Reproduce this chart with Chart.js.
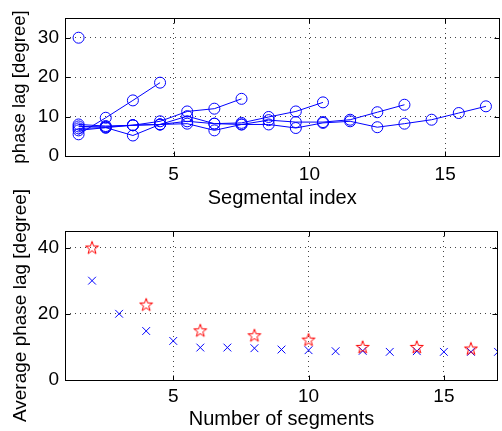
<!DOCTYPE html>
<html>
<head>
<meta charset="utf-8">
<title>Phase lag</title>
<script src="https://cdn.jsdelivr.net/npm/chart.js@4"></script>
<style>
  html, body { margin: 0; padding: 0; background: #fff; overflow: hidden; }
  #wrap { position: relative; width: 506px; height: 431px; }
  canvas { position: absolute; left: 0; }
  #topChart { top: 0; }
  #bottomChart { top: 180px; }
</style>
</head>
<body>
<div id="wrap">
  <canvas id="topChart" width="506" height="210"></canvas>
  <canvas id="bottomChart" width="506" height="251"></canvas>
</div>
<script>
// --- data ---
const segIndex = [1.5, 2.5, 3.5, 4.5, 5.5, 6.5, 7.5, 8.5, 9.5, 10.5, 11.5, 12.5, 13.5, 14.5, 15.5, 16.5];

// phase lag per segmental index, one series per number of segments
const lag2  = [30.0];
const lag5  = [5.5, 9.7, 14.1, 18.6];
const lag8  = [8.0, 7.6, 7.8, 8.8, 11.3, 12.0, 14.5];
const lag11 = [7.5, 7.4, 7.8, 8.0, 10.1, 8.2, 8.4, 9.9, 11.3, 13.6];
const lag14 = [7.0, 7.2, 7.8, 8.0, 8.8, 8.2, 8.0, 9.1, 8.6, 8.6, 9.2, 11.1, 13.0];
const lag17 = [6.5, 7.2, 5.2, 8.0, 8.2, 6.5, 8.0, 8.0, 7.1, 8.4, 8.8, 7.3, 8.2, 9.2, 10.9, 12.6];

// average phase lag vs number of segments
const numSegments = [2, 3, 4, 5, 6, 7, 8, 9, 10, 11, 12, 13, 14, 15, 16, 17];
const avgLag = [30.0, 20.0, 14.8, 11.8, 9.8, 9.8, 9.6, 9.2, 9.0, 8.7, 8.8, 8.5, 8.7, 8.5, 8.5, 8.5];
const evenSegments = [2, 4, 6, 8, 10, 12, 14, 16];
const avgLagEven = [40.0, 22.8, 15.0, 13.5, 12.2, 10.0, 10.0, 9.5];

const xTicks = [5, 10, 15];
const topYTicks = [0, 10, 20, 30];
const bottomYTicks = [0, 20, 40];

// --- common style ---
const FONT = "'Liberation Sans', Arial, Helvetica, sans-serif";
Chart.defaults.font.family = FONT;
Chart.defaults.color = '#000';
Chart.defaults.animation = false;

// pentagram marker like matlab 'p'
function makeStar(color) {
  const c = document.createElement('canvas');
  c.width = 16; c.height = 16;
  const g = c.getContext('2d');
  const cx = 8, cy = 8.6, R = 6.8, r = 2.7;
  g.beginPath();
  for (let i = 0; i < 10; i++) {
    const rad = (i % 2 === 0) ? R : r;
    const ang = -Math.PI / 2 + i * Math.PI / 5;
    const px = cx + rad * Math.cos(ang), py = cy + rad * Math.sin(ang);
    if (i === 0) g.moveTo(px, py); else g.lineTo(px, py);
  }
  g.closePath();
  g.strokeStyle = color;
  g.lineWidth = 1;
  g.stroke();
  return c;
}

function xAxis(title, height, pad) {
  return {
    type: 'linear',
    min: 1, max: 17,
    afterBuildTicks: s => { s.ticks = xTicks.map(v => ({ value: v })); },
    afterFit: s => { s.height = height; },
    grid: { color: '#444', lineWidth: 1, drawTicks: false },
    border: { display: false, dash: [1, 4] },
    ticks: { padding: pad, maxRotation: 0, autoSkip: false, font: { size: 19 } },
    title: { display: true, text: title, font: { size: 20 }, padding: { top: 0, bottom: 0 } }
  };
}

function yAxis(title, max, ticks, titleSize) {
  return {
    type: 'linear',
    min: 0, max: max,
    afterBuildTicks: s => { s.ticks = ticks.map(v => ({ value: v })); },
    afterFit: s => { s.width = 65; },
    grid: { color: '#444', lineWidth: 1, drawTicks: false },
    border: { display: false, dash: [1, 4] },
    ticks: { padding: 6, font: { size: 19 } },
    title: { display: true, text: title, font: { size: titleSize }, padding: { top: 9, bottom: 0 } }
  };
}

// box around the axes plus inward tick marks (matlab look)
const boxPlugin = {
  id: 'box',
  afterDraw(chart) {
    const { ctx, chartArea: a, scales } = chart;
    const L = Math.round(a.left) + 0.5, R = Math.round(a.right) - 0.5;
    const T = Math.round(a.top) + 0.5, B = Math.round(a.bottom) + 0.5;
    ctx.save();
    ctx.strokeStyle = '#000';
    ctx.lineWidth = 1;
    ctx.strokeRect(L, T, R - L, B - T);
    ctx.beginPath();
    scales.x.ticks.forEach(t => {
      const px = Math.round(scales.x.getPixelForValue(t.value)) + 0.5;
      ctx.moveTo(px, B); ctx.lineTo(px, B - 5);
      ctx.moveTo(px, T); ctx.lineTo(px, T + 5);
    });
    scales.y.ticks.forEach(t => {
      const py = Math.round(scales.y.getPixelForValue(t.value)) + 0.5;
      ctx.moveTo(L, py); ctx.lineTo(L + 5, py);
      ctx.moveTo(R, py); ctx.lineTo(R - 5, py);
    });
    ctx.stroke();
    ctx.restore();
  }
};

// --- top: phase lag along the body ---
const topSeries = [lag2, lag5, lag8, lag11, lag14, lag17];
new Chart(document.getElementById('topChart'), {
  type: 'scatter',
  data: {
    datasets: topSeries.map(vals => ({
      data: vals.map((v, i) => ({ x: segIndex[i], y: v })),
      showLine: true,
      borderColor: 'blue',
      borderWidth: 1,
      tension: 0,
      pointStyle: 'circle',
      pointRadius: 5.5,
      pointBorderColor: 'blue',
      pointBackgroundColor: 'rgba(0,0,0,0)',
      pointBorderWidth: 1
    }))
  },
  options: {
    responsive: false,
    layout: { padding: { left: 0, top: 18, right: 2, bottom: 0 } },
    plugins: { legend: { display: false }, tooltip: { enabled: false } },
    scales: {
      x: xAxis('Segmental index', 54, 7),
      y: yAxis('phase lag [degree]', 35, topYTicks, 18.5)
    }
  },
  plugins: [boxPlugin]
});

// --- bottom: average phase lag (canvas overlaps the top one so the long y title fits) ---
new Chart(document.getElementById('bottomChart'), {
  type: 'scatter',
  data: {
    datasets: [
      {
        data: evenSegments.map((n, i) => ({ x: n, y: avgLagEven[i] })),
        pointStyle: makeStar('#ff0000'),
        pointRadius: 7
      },
      {
        data: numSegments.map((n, i) => ({ x: n, y: avgLag[i] })),
        pointStyle: 'crossRot',
        pointRadius: 5.5,
        pointBorderColor: 'blue',
        pointBorderWidth: 1
      }
    ]
  },
  options: {
    responsive: false,
    layout: { padding: { left: 0, top: 51, right: 2, bottom: 0 } },
    plugins: { legend: { display: false }, tooltip: { enabled: false } },
    scales: {
      x: xAxis('Number of segments', 51, 5),
      y: yAxis('Average phase lag [degree]', 45, bottomYTicks, 19)
    }
  },
  plugins: [boxPlugin]
});
</script>
</body>
</html>
